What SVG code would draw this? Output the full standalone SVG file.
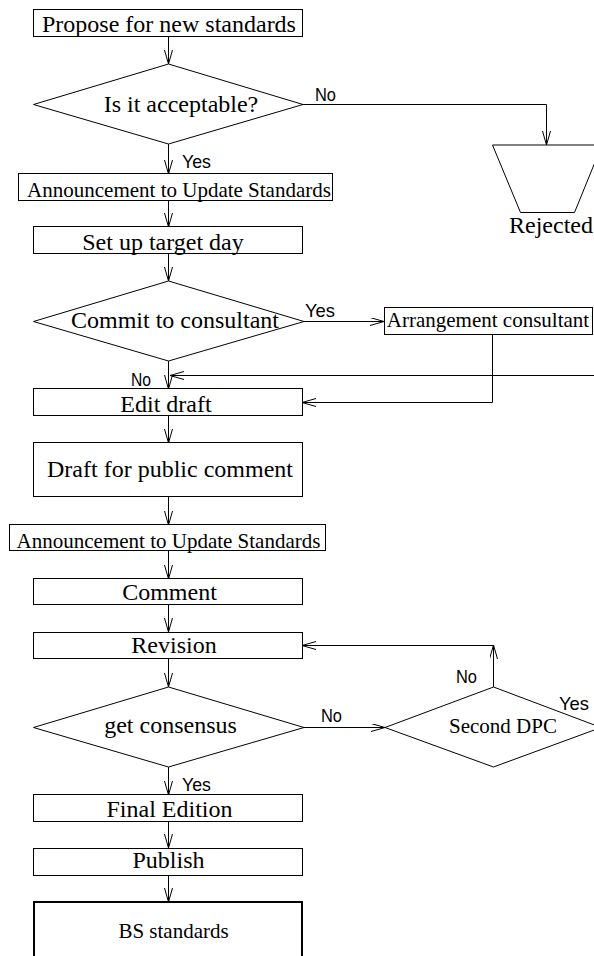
<svg xmlns="http://www.w3.org/2000/svg" width="594" height="956" viewBox="0 0 594 956">
<style>
.b{fill:#fff;stroke:#000;stroke-width:1}
.t{font-family:"Liberation Serif","Times New Roman",serif;font-size:24px;fill:#000;text-anchor:middle}
.s{font-size:21px}
.l{font-family:"Liberation Sans",Arial,sans-serif;font-size:19px;fill:#000}
.c{fill:none;stroke:#000;stroke-width:1}
</style>
<defs>
<marker id="a" markerWidth="16" markerHeight="10" refX="14" refY="4" orient="auto" markerUnits="userSpaceOnUse"><path d="M0,0 L14,4 L0,8" fill="none" stroke="#000" stroke-width="1"/></marker>
</defs>
<rect width="594" height="956" fill="#fff"/>
<g id="connectors">
<path class="c" d="M168.5,36 V64" marker-end="url(#a)"/>
<path class="c" d="M302,104.5 H546.5 V145" marker-end="url(#a)"/>
<path class="c" d="M168.5,144 V174" marker-end="url(#a)"/>
<path class="c" d="M168.5,200 V227" marker-end="url(#a)"/>
<path class="c" d="M168.5,254 V281" marker-end="url(#a)"/>
<path class="c" d="M304,321.5 H384" marker-end="url(#a)"/>
<path class="c" d="M168.5,361 V389" marker-end="url(#a)"/>
<path class="c" d="M594,375.5 H170" marker-end="url(#a)"/>
<path class="c" d="M492.5,335 V402.5 H302" marker-end="url(#a)"/>
<path class="c" d="M168.5,416 V443" marker-end="url(#a)"/>
<path class="c" d="M168.5,497 V525" marker-end="url(#a)"/>
<path class="c" d="M168.5,551 V579" marker-end="url(#a)"/>
<path class="c" d="M168.5,605 V632" marker-end="url(#a)"/>
<path class="c" d="M168.5,659 V687" marker-end="url(#a)"/>
<path class="c" d="M304,727.5 H385" marker-end="url(#a)"/>
<path class="c" d="M493.5,687 V645" marker-end="url(#a)"/>
<path class="c" d="M493.5,645.5 H302" marker-end="url(#a)"/>
<path class="c" d="M168.5,767 V795" marker-end="url(#a)"/>
<path class="c" d="M168.5,821 V848" marker-end="url(#a)"/>
<path class="c" d="M168.5,875 V902" marker-end="url(#a)"/>
<text class="l" x="315" y="101" textLength="21" lengthAdjust="spacingAndGlyphs">No</text>
<text class="l" x="182" y="168" textLength="29" lengthAdjust="spacingAndGlyphs">Yes</text>
<text class="l" x="305" y="317" textLength="30" lengthAdjust="spacingAndGlyphs">Yes</text>
<text class="l" x="131" y="386" textLength="20" lengthAdjust="spacingAndGlyphs">No</text>
<text class="l" x="321" y="722" textLength="21" lengthAdjust="spacingAndGlyphs">No</text>
<text class="l" x="456" y="683" textLength="21" lengthAdjust="spacingAndGlyphs">No</text>
<text class="l" x="559" y="710" textLength="30" lengthAdjust="spacingAndGlyphs">Yes</text>
<text class="l" x="182" y="791" textLength="29" lengthAdjust="spacingAndGlyphs">Yes</text>
</g>
<g id="propose"><rect class="b" x="33.5" y="9.5" width="269" height="27"/><text class="t" x="169" y="32">Propose for new standards</text></g>
<g id="acceptable"><polygon class="b" points="33.5,104.5 168.5,64 303,104.5 168.5,144"/><text class="t" x="181" y="112">Is it acceptable?</text></g>
<g id="rejected"><polygon class="b" points="492.5,145 602,145 574.5,212.5 520.5,212.5"/><text class="t" x="551" y="233">Rejected</text></g>
<g id="announce1"><text class="t s" x="179" y="197">Announcement to Update Standards</text><rect x="18.5" y="173.5" width="314" height="27" fill="none" stroke="#000"/></g>
<g id="setup"><rect class="b" x="33.5" y="226.5" width="269" height="27"/><text class="t" x="163" y="250">Set up target day</text></g>
<g id="commit"><polygon class="b" points="33.5,321.5 168.5,281 304,321.5 168.5,361"/><text class="t" x="175" y="328">Commit to consultant</text></g>
<g id="arrangement"><rect class="b" x="384.5" y="307.5" width="208" height="27"/><text class="t s" x="488" y="327">Arrangement consultant</text></g>
<g id="edit"><rect class="b" x="33.5" y="388.5" width="269" height="27"/><text class="t" x="166" y="412">Edit draft</text></g>
<g id="draft"><rect class="b" x="33.5" y="442.5" width="269" height="54"/><text class="t" x="170" y="477">Draft for public comment</text></g>
<g id="announce2"><text class="t s" x="168.5" y="548">Announcement to Update Standards</text><rect x="9.5" y="524.5" width="316" height="26" fill="none" stroke="#000"/></g>
<g id="comment"><rect class="b" x="33.5" y="578.5" width="269" height="26"/><text class="t" x="169.5" y="600">Comment</text></g>
<g id="revision"><rect class="b" x="33.5" y="632.5" width="269" height="26"/><text class="t" x="174" y="653">Revision</text></g>
<g id="consensus"><polygon class="b" points="33.5,727.5 168.5,687 304,727.5 168.5,767"/><text class="t" x="170.5" y="733">get consensus</text></g>
<g id="seconddpc"><polygon class="b" points="385,727.5 493.5,687 601,727.5 493.5,767"/><text class="t s" x="503" y="733">Second DPC</text></g>
<g id="final"><rect class="b" x="33.5" y="794.5" width="269" height="27"/><text class="t" x="169.5" y="817">Final Edition</text></g>
<g id="publish"><rect class="b" x="33.5" y="848.5" width="269" height="27"/><text class="t" x="168.5" y="868">Publish</text></g>
<g id="bs"><rect x="34" y="902" width="268" height="70" fill="#fff" stroke="#000" stroke-width="2"/><text class="t s" x="173.5" y="938">BS standards</text></g>
</svg>
